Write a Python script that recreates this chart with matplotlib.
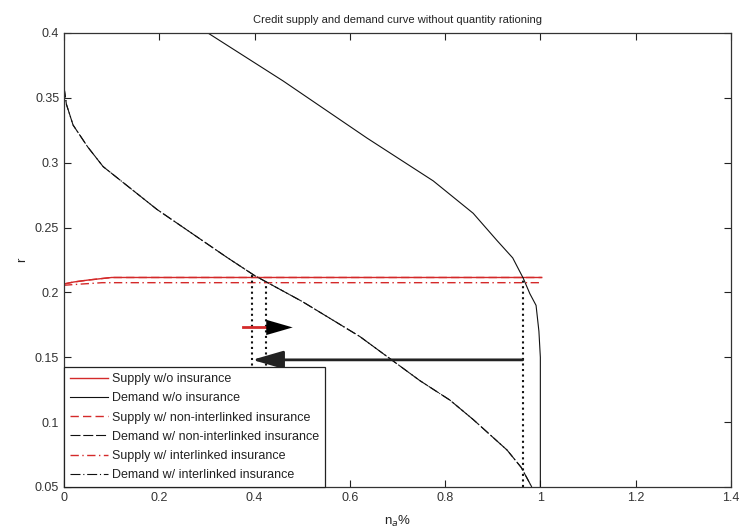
import matplotlib
matplotlib.use("Agg")
import matplotlib.pyplot as plt

plt.rcParams['font.family'] = ['Liberation Sans', 'DejaVu Sans']

# ---- data ----
supply_wo_x = [0.0, 0.02, 0.05, 0.10, 0.3, 0.6, 1.003]
supply_wo_r = [0.2065, 0.208, 0.2095, 0.2115, 0.2115, 0.2115, 0.2115]

supply_nonint_x = [0.0, 0.02, 0.05, 0.10, 0.3, 0.6, 1.003]
supply_nonint_r = [0.2065, 0.208, 0.2095, 0.2115, 0.2115, 0.2115, 0.2115]

supply_int_x = [0.0, 0.03, 0.06, 0.08, 0.3, 0.6, 1.0]
supply_int_r = [0.2055, 0.2063, 0.2070, 0.2075, 0.2075, 0.2075, 0.2075]

demand_wo_x = [0.302, 0.46, 0.636, 0.775, 0.859, 0.909, 0.942, 0.964, 0.978, 0.991, 0.997, 1.0, 1.0]
demand_wo_r = [0.400, 0.363, 0.319, 0.286, 0.261, 0.240, 0.2266, 0.211, 0.199, 0.190, 0.170, 0.150, 0.050]

demand_x = [0.0, 0.005, 0.019, 0.05, 0.082, 0.195, 0.342, 0.40, 0.50, 0.621, 0.747, 0.81, 0.859, 0.93, 0.96, 0.982]
demand_r = [0.358, 0.345, 0.329, 0.312, 0.297, 0.264, 0.227, 0.213, 0.193, 0.166, 0.132, 0.117, 0.102, 0.0785, 0.065, 0.050]

# equilibrium markers (dotted verticals): x position and top r
eq_x = [0.395, 0.424, 0.963]
eq_top = [0.2145, 0.2075, 0.2115]

# arrows: (x_start, x_end, r)
red_seg = (0.376, 0.425, 0.173)
arrow_right = (0.42, 0.48, 0.173)
arrow_left = (0.963, 0.395, 0.148)

xticks = [0, 0.2, 0.4, 0.6, 0.8, 1.0, 1.2, 1.4]
xticklabels = ['0', '0.2', '0.4', '0.6', '0.8', '1', '1.2', '1.4']
yticks = [0.05, 0.1, 0.15, 0.2, 0.25, 0.3, 0.35, 0.4]
yticklabels = ['0.05', '0.1', '0.15', '0.2', '0.25', '0.3', '0.35', '0.4']

fig = plt.figure(figsize=(7.42, 5.31), dpi=100)
ax = fig.add_axes([0.0863, 0.0829, 0.8987, 0.855])

red = '#d42a2a'
blk = '#111111'

ax.plot(supply_wo_x, supply_wo_r, '-', color=red, lw=1.0, label='Supply w/o insurance')
ax.plot(demand_wo_x, demand_wo_r, '-', color=blk, lw=0.8, label='Demand w/o insurance')
ax.plot(supply_nonint_x, supply_nonint_r, '--', color=red, lw=1.0, dashes=(6, 3), label='Supply w/ non-interlinked insurance')
ax.plot(demand_x, demand_r, '--', color=blk, lw=0.8, dashes=(9, 2.5), label='Demand w/ non-interlinked insurance')
ax.plot(supply_int_x, supply_int_r, '-.', color=red, lw=1.0, dashes=(6, 2.5, 1, 2.5), label='Supply w/ interlinked insurance')
ax.plot(demand_x, demand_r, '-.', color=blk, lw=0.8, dashes=(9, 2.5, 1, 2.5), label='Demand w/ interlinked insurance')

for x, t in zip(eq_x, eq_top):
    ax.plot([x, x], [0.05, t], ':', color=blk, lw=1.5)

# red segment then black arrow to the right
ax.plot([red_seg[0], red_seg[1]], [red_seg[2], red_seg[2]], '-', color=red, lw=2)
ax.annotate('', xy=(arrow_right[1], arrow_right[2]), xytext=(arrow_right[0], arrow_right[2]),
            arrowprops=dict(arrowstyle='-|>,head_length=1.9,head_width=0.55', color='black', lw=0.01,
                            shrinkA=0, shrinkB=0))
# black arrow to the left
ax.annotate('', xy=(arrow_left[1], arrow_left[2]), xytext=(arrow_left[0], arrow_left[2]),
            arrowprops=dict(arrowstyle='-|>,head_length=1.9,head_width=0.55', color='#222222', lw=2.0,
                            shrinkA=0, shrinkB=0))

ax.set_xlim(0, 1.4)
ax.set_ylim(0.05, 0.4)
ax.set_xticks(xticks)
ax.set_xticklabels(xticklabels)
ax.set_yticks(yticks)
ax.set_yticklabels(yticklabels)
ax.tick_params(direction='in', top=True, right=True, length=5, labelsize=9, colors='#222222',
               labelcolor='#333333')
for s in ax.spines.values():
    s.set_linewidth(0.9)
    s.set_color('#333333')

ax.set_title('Credit supply and demand curve without quantity rationing', fontsize=8,
             color='#222222', pad=7)
ax.set_xlabel('n$_a$%', fontsize=9.5, color='#222222', labelpad=7)
ax.set_ylabel('r', fontsize=9.5, color='#222222', labelpad=5, rotation=90)

leg = ax.legend(loc='lower left', bbox_to_anchor=(0, 0), borderaxespad=0, fancybox=False,
                framealpha=1, edgecolor='#222222', handlelength=3.1, handletextpad=0.3,
                labelspacing=0.58, borderpad=0.45,
                prop={'size': 9})
leg.get_frame().set_linewidth(0.9)
for t in leg.get_texts():
    t.set_color('#222222')

fig.savefig('out.png', dpi=100)
